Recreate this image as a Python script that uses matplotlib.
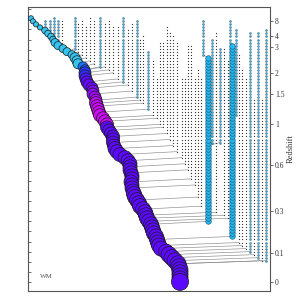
"""
Merger tree: main progenitor as big coloured circles, side branches as
dotted columns, joined to whatever they merge into by thin grey lines.
Vertical axis is lookback time (Gyr), labelled with redshift on the right.
"""

import matplotlib

matplotlib.use("Agg")
import matplotlib.pyplot as plt
from matplotlib.colors import LinearSegmentedColormap
from matplotlib.ticker import MultipleLocator

# snapshot lookback times (Gyr)
SNAP_T = [0.00, 0.15, 0.30, 0.45, 0.60, 0.75, 0.90, 1.05, 1.20, 1.35,
          1.50, 1.65, 1.80, 1.95, 2.10, 2.25, 2.40, 2.55, 2.70, 2.85,
          3.00, 3.15, 3.30, 3.45, 3.60, 3.75, 3.90, 4.05, 4.20, 4.35,
          4.50, 4.65, 4.80, 4.95, 5.10, 5.25, 5.40, 5.55, 5.70, 5.85,
          6.00, 6.15, 6.30, 6.45, 6.60, 6.75, 6.90, 7.05, 7.20, 7.35,
          7.50, 7.65, 7.80, 7.95, 8.10, 8.25, 8.40, 8.55, 8.70, 8.85,
          9.00, 9.15, 9.30, 9.45, 9.60, 9.75, 9.90, 10.05, 10.20, 10.35,
          10.50, 10.65, 10.80, 10.95, 11.10, 11.25, 11.40, 11.55, 11.70, 11.85,
          12.00, 12.15, 12.30, 12.45, 12.60, 12.75, 12.90, 13.05]

# main progenitor: horizontal position, size (px radius), colour value per snapshot
MAIN_X = [180, 180, 180, 180, 180, 179, 178, 175, 172, 169,
          166, 161, 159, 158, 157, 156, 154, 153, 152, 151,
          149, 147, 146, 145, 143, 140, 139, 137, 135, 134,
          133, 132, 132, 131, 132, 132, 131, 130, 130, 130,
          128, 125, 120, 117, 115, 114, 113, 113, 113, 111,
          109, 107, 107, 105, 103, 100, 99, 98, 97, 96,
          96, 95, 93, 93, 92, 89, 87, 86, 85, 85,
          85, 83, 78, 77, 75, 72, 67, 63, 58, 55,
          53, 51, 48, 45, 40, 36, 33, 31]
MAIN_R = [8.5, 8.0, 8.0, 8.0, 8.0, 8.0, 8.0, 8.0, 8.0, 8.0,
          7.5, 7.5, 7.5, 7.5, 7.5, 7.5, 7.5, 7.5, 7.5, 7.5,
          7.5, 7.5, 7.5, 7.5, 7.5, 7.5, 7.5, 7.5, 7.5, 7.5,
          7.0, 7.0, 7.0, 7.0, 7.0, 7.0, 7.0, 7.0, 7.0, 7.0,
          7.0, 7.0, 7.0, 7.0, 7.0, 6.5, 6.5, 6.5, 6.5, 6.5,
          6.5, 6.5, 6.5, 6.5, 6.5, 6.5, 6.5, 6.5, 6.5, 6.5,
          6.0, 6.0, 6.0, 6.0, 6.0, 6.0, 6.0, 6.0, 6.0, 6.0,
          5.0, 5.0, 5.0, 5.0, 5.0, 4.0, 4.0, 4.0, 4.0, 4.0,
          3.3, 3.3, 3.3, 3.3, 2.6, 2.6, 2.6, 2.6]
MAIN_C = [0.5, 0.5, 0.5, 0.5, 0.5, 0.5, 0.5, 0.5, 0.5, 0.5,
          0.5, 0.5, 0.5, 0.5, 0.5, 0.5, 0.5, 0.5, 0.5, 0.5,
          0.5, 0.5, 0.5, 0.5, 0.5, 0.5, 0.5, 0.5, 0.5, 0.5,
          0.5, 0.5, 0.5, 0.5, 0.5, 0.5, 0.5, 0.5, 0.5, 0.5,
          0.5, 0.5, 0.5, 0.5, 0.5, 0.5, 0.5, 0.5, 0.5, 0.5,
          0.5, 0.5, 0.95, 0.95, 0.95, 0.95, 0.95, 0.95, 0.9, 0.9,
          0.85, 0.75, 0.7, 0.65, 0.55, 0.55, 0.5, 0.45, 0.4, 0.35,
          0.25, 0.2, 0.0, 0.0, 0.0, 0.0, 0.0, 0.0, 0.0, 0.0,
          0.0, 0.0, 0.0, 0.0, 0.0, 0.0, 0.0, 0.0]

# side branches: x, top snapshot, bottom snapshot, kind, parent (-1 = main)
# kind 0 = small dark dots, 1 = small blue, 2 = massive blue
BR_X = [45, 50, 54, 58, 62, 75, 78, 82, 86, 90,
        94, 100, 105, 109, 113, 118, 123, 128, 132, 137,
        140, 143, 148, 153, 157, 160, 163, 167, 170, 173,
        177, 182, 185, 188, 191, 195, 198, 201, 208, 203,
        212, 216, 220, 224, 228, 232, 230, 236, 239, 242,
        246, 250, 254, 258, 262, 266]
BR_TOP = [86, 86, 87, 86, 86, 87, 85, 86, 84, 87,
          86, 87, 85, 86, 84, 84, 87, 83, 85, 86,
          80, 81, 76, 73, 67, 79, 79, 84, 82, 81,
          79, 67, 67, 78, 78, 67, 70, 67, 74, 86,
          80, 82, 77, 77, 73, 78, 86, 83, 75, 70,
          67, 82, 60, 82, 60, 83]
BR_BOT = [84, 83, 80, 79, 78, 77, 76, 75, 74, 73,
          72, 71, 71, 70, 69, 67, 66, 65, 63, 61,
          60, 59, 57, 55, 54, 52, 51, 49, 47, 45,
          43, 41, 39, 37, 34, 32, 28, 25, 20, 75,
          46, 23, 46, 22, 21, 15, 79, 55, 13, 12,
          11, 10, 9, 8, 7, 7]
BR_KIND = [1, 1, 1, 1, 0, 1, 0, 0, 0, 0,
           0, 1, 0, 0, 0, 0, 1, 0, 0, 1,
           0, 0, 1, 0, 0, 0, 0, 0, 0, 0,
           0, 0, 0, 0, 0, 0, 0, 0, 2, 1,
           1, 0, 1, 0, 0, 2, 1, 1, 0, 0,
           0, 1, 0, 1, 0, 1]
BR_PARENT = [-1, -1, -1, -1, -1, -1, -1, -1, -1, -1,
             -1, -1, -1, -1, -1, -1, -1, -1, -1, -1,
             -1, -1, -1, -1, -1, -1, -1, -1, -1, -1,
             -1, -1, -1, -1, -1, -1, -1, -1, -1, 38,
             38, -1, 38, -1, -1, -1, 45, 45, -1, -1,
             -1, -1, -1, -1, -1, -1]

# redshift labels on the right axis, at their lookback times
Z_LABELS = ["0", "0.1", "0.3", "0.6", "1", "1.5", "2", "3", "4", "8"]
Z_TIMES = [0.0, 1.44, 3.51, 5.79, 7.82, 9.31, 10.35, 11.63, 12.18, 12.94]

SERIF = "Liberation Serif"
CMAP = LinearSegmentedColormap.from_list(
    "tree", [(0.0, "#35c3f0"), (0.3, "#1048ff"), (0.5, "#5c0aff"), (1.0, "#d80cf5")])
LINE = "#8a8a8a"
KIND_STYLE = {
    0: dict(ms=0.9, color="#303030", mec="#303030", mew=0.0),
    1: dict(ms=1.4, color="#3aa8d8", mec="#1d3f55", mew=0.25),
    2: dict(ms=4.0, color="#22b8ee", mec="#14506e", mew=0.4),
}


def px_to_s(r):
    """marker radius in pixels (dpi 100) -> scatter area in pt^2"""
    return (2 * r * 0.72) ** 2


def main():
    fig = plt.figure(figsize=(2.99, 2.99), dpi=100)
    ax = fig.add_axes([28 / 299, 8 / 299, 242 / 299, 284 / 299])
    ax.set_xlim(28, 270)
    ax.set_ylim(-0.45, 13.61)

    # connection lines, branch -> parent at the next snapshot down
    for i in range(len(BR_X)):
        b = BR_BOT[i]
        p = BR_PARENT[i]
        px = MAIN_X[b - 1] if p < 0 else BR_X[p]
        ax.plot([BR_X[i], px], [SNAP_T[b], SNAP_T[b - 1]],
                color=LINE, lw=0.45, zorder=1)

    # branch columns
    for i in range(len(BR_X)):
        ts = SNAP_T[BR_BOT[i]:BR_TOP[i] + 1]
        st = KIND_STYLE[BR_KIND[i]]
        ax.plot([BR_X[i]] * len(ts), ts, ls="none", marker="o",
                ms=st["ms"], color=st["color"], mec=st["mec"],
                mew=st["mew"], zorder=2 + BR_KIND[i] * 0.1)

    # main progenitor, earliest first so later circles sit on top
    ax.scatter(MAIN_X[::-1], SNAP_T[::-1],
               s=[px_to_s(r) for r in MAIN_R[::-1]],
               c=MAIN_C[::-1], cmap=CMAP, vmin=0, vmax=1,
               edgecolors="#1a1a1a", linewidths=0.5, zorder=3)

    # left axis: time ticks only
    ax.set_xticks([])
    ax.yaxis.set_major_locator(MultipleLocator(0.5))
    ax.tick_params(axis="y", direction="in", length=2.5, width=0.6,
                   color="#555555", labelleft=False)
    for sp in ax.spines.values():
        sp.set_color("#555555")
        sp.set_linewidth(0.8)

    # right axis: redshift
    ax2 = ax.twinx()
    ax2.set_ylim(ax.get_ylim())
    ax2.set_yticks(Z_TIMES)
    ax2.set_yticklabels(Z_LABELS, fontsize=5.5, family=SERIF, color="#333333")
    ax2.tick_params(axis="y", direction="out", length=2, width=0.6,
                    color="#555555", pad=1.5)
    ax2.set_ylabel("Redshift", fontsize=6, family=SERIF, color="#333333",
                   labelpad=2)
    for sp in ax2.spines.values():
        sp.set_visible(False)

    ax.text(0.074, 0.05, "WM", transform=ax.transAxes, fontsize=5,
            family=SERIF, color="#555555", ha="center", va="center")

    fig.savefig("out.png", dpi=100)
    plt.close(fig)


if __name__ == "__main__":
    main()
